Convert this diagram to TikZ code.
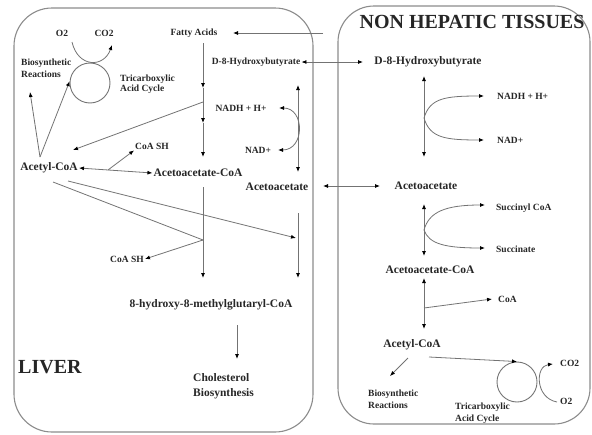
\documentclass[tikz,border=0pt]{standalone}
\usepackage{fontspec}
\setmainfont{Liberation Serif}
\usetikzlibrary{arrows.meta,positioning,calc}
\tikzset{
tissue/.style = {draw=black!45, line width=1.1pt, rounded corners=38pt},
metab/.style = {font=\fontsize{11.5}{15}\selectfont\bfseries, text=black!85, inner sep=1pt},
cofac/.style = {font=\fontsize{9.5}{12}\selectfont\bfseries, text=black!85, inner sep=1pt},
organ/.style = {font=\fontsize{20}{24}\selectfont\bfseries, text=black!85, inner sep=1pt},
cycle/.style = {draw=black!55, circle, line width=0.9pt, minimum size=40pt, inner sep=0pt},
tmp/.style = {coordinate},
flow/.style = {draw=black!55, line width=0.8pt}
}

\begin{document}
\begin{tikzpicture}[x=1pt, y=-1pt, >={Latex[length=5pt,width=4pt,color=black]}]
\useasboundingbox (0,0) rectangle (592,434);
% compartments
\draw[tissue] (14,8) rectangle (313,432);
\draw[tissue, rounded corners=36pt] (338,6) rectangle (590,424);

% liver
\node[cofac] (o2L) at (62,33) {O2};
\node[cofac] (co2L) at (104,33) {CO2};
\node[cycle] (cycL) at (90,83) {};
\node[cofac, anchor=west, align=left, font=\fontsize{9.5}{10.5}\selectfont\bfseries] (tcaL) at (119,84) {Tricarboxylic\\Acid Cycle};
\node[cofac, anchor=west, align=left] (bioL) at (20,68) {Biosynthetic\\Reactions};
\node[cofac] (fatty) at (194,33) {Fatty Acids};
\node[cofac] (hbL) at (256,62) {D-8-Hydroxybutyrate};
\node[cofac] (nadhL) at (241,108) {NADH + H+};
\node[cofac] (nadL) at (258,150) {NAD+};
\node[metab] (acoaL) at (49,168) {Acetyl-CoA};
\node[cofac] (coashA) at (152,146) {CoA SH};
\node[metab] (aacoaL) at (198,173) {Acetoacetate-CoA};
\node[metab] (acacL) at (277,187) {Acetoacetate};
\node[cofac] (coashB) at (127,259) {CoA SH};
\node[metab] (hmg) at (211,305) {8-hydroxy-8-methylglutaryl-CoA};
\node[metab, anchor=west, align=left] (chol) at (192,386) {Cholesterol\\Biosynthesis};
\node[organ, anchor=west] (liver) at (17,367) {LIVER};

% non hepatic tissues
\node[organ] (nonhep) at (472,22) {NON HEPATIC TISSUES};
\node[metab] (hbR) at (428,62) {D-8-Hydroxybutyrate};
\node[cofac, anchor=west] (nadhR) at (496,96) {NADH + H+};
\node[cofac, anchor=west] (nadR) at (496,140) {NAD+};
\node[metab] (acacR) at (426,186) {Acetoacetate};
\node[cofac, anchor=west] (succoa) at (495,208) {Succinyl CoA};
\node[cofac, anchor=west] (succ) at (495,249) {Succinate};
\node[metab] (aacoaR) at (430,270) {Acetoacetate-CoA};
\node[cofac, anchor=west] (coaR) at (497,299) {CoA};
\node[metab] (acoaR) at (412,345) {Acetyl-CoA};
\node[cofac, anchor=west, align=left] (bioR) at (367,399) {Biosynthetic\\Reactions};
\node[cycle] (cycR) at (517,382) {};
\node[cofac, anchor=west] (co2R) at (559,363) {CO2};
\node[cofac, anchor=west] (o2R) at (559,401) {O2};
\node[cofac, anchor=west, align=left] (tcaR) at (454,413) {Tricarboxylic\\Acid Cycle};

% junctions
\node[tmp] (arcL0) at (72,42) {};
\node[tmp] (arcL1) at (112,45) {};
\node[tmp] (vL) at (40,157) {};
\node[tmp] (bioInL) at (30,92) {};
\node[tmp] (faSrc) at (323,33) {};
\node[tmp] (faIn) at (233,33) {};
\node[tmp] (fa0) at (203,43) {};
\node[tmp] (fa1) at (203,88) {};
\node[tmp] (faBr) at (203,102) {};
\node[tmp] (fa2) at (203,123) {};
\node[tmp] (fa3) at (203,157) {};
\node[tmp] (acoaIn) at (73,150) {};
\node[tmp] (hbInR) at (363,62) {};
\node[tmp] (ah0) at (298,85) {};
\node[tmp] (ah1) at (298,172) {};
\node[tmp] (nadhIn) at (279,108) {};
\node[tmp] (nadIn) at (278,150) {};
\node[tmp] (coashBr) at (108,170) {};
\node[tmp] (aa0) at (203,187) {};
\node[tmp] (aaBr) at (203,240) {};
\node[tmp] (aa1) at (203,278) {};
\node[tmp] (acoaOut1) at (53,182) {};
\node[tmp] (acoaOut2) at (68,181) {};
\node[tmp] (acIn) at (296,238) {};
\node[tmp] (ac0) at (298,213) {};
\node[tmp] (ac1) at (298,278) {};
\node[tmp] (hmg0) at (237,325) {};
\node[tmp] (hmg1) at (237,359) {};
\node[tmp] (acL) at (323,186) {};
\node[tmp] (acR) at (380,186) {};
\node[tmp] (hb0) at (424,76) {};
\node[tmp] (hb1) at (424,157) {};
\node[tmp] (nadBr) at (424,118) {};
\node[tmp] (nadhInR) at (484,96) {};
\node[tmp] (nadInR) at (484,140) {};
\node[tmp] (ak0) at (424,204) {};
\node[tmp] (ak1) at (424,256) {};
\node[tmp] (sucBr) at (424,230) {};
\node[tmp] (succoaIn) at (485,205) {};
\node[tmp] (succIn) at (485,248) {};
\node[tmp] (ka0) at (424,278) {};
\node[tmp] (ka1) at (424,329) {};
\node[tmp] (coaBr) at (424,308) {};
\node[tmp] (coaIn) at (492,299) {};
\node[tmp] (acoaOutR1) at (408,358) {};
\node[tmp] (bioInR) at (390,376) {};
\node[tmp] (acoaOutR2) at (429,357) {};
\node[tmp] (arcR0) at (557,402) {};
\node[tmp] (arcR1) at (553,364) {};

% liver pathways
\draw[flow,->] (arcL0) .. controls (78,68) and (104,68) .. (arcL1);
\draw[flow,->] (vL) -- (bioInL);
\draw[flow,->] (vL) -- (cycL.175);
\draw[flow,->] (faSrc) -- (faIn);
\draw[flow,->] (fa0) -- (fa1);
\draw[flow,->] (fa1) -- (fa2);
\draw[flow,->] (fa2) -- (fa3);
\draw[flow,->] (faBr) -- (acoaIn);
\draw[flow,<->] (hbL.east) -- (hbInR);
\draw[flow,<->] (ah0) -- (ah1);
\draw[flow,<->] (nadhIn) .. controls (305,108) and (305,150) .. (nadIn);
\draw[flow,<->] (acoaL.east) -- (aacoaL.west);
\draw[flow,->] (coashBr) -- (coashA.south west);
\draw[flow,->] (aa0) -- (aa1);
\draw[flow,->] (aaBr) -- (coashB.east);
\draw[flow] (acoaOut1) -- (aaBr);
\draw[flow,->] (acoaOut2) -- (acIn);
\draw[flow,->] (ac0) -- (ac1);
\draw[flow,->] (hmg0) -- (hmg1);
\draw[flow,<->] (acL) -- (acR);

% non hepatic pathways
\draw[flow,<->] (hb0) -- (hb1);
\draw[flow,->] (nadBr) .. controls (430,98) and (445,96) .. (nadhInR);
\draw[flow,->] (nadBr) .. controls (430,138) and (445,140) .. (nadInR);
\draw[flow,<->] (ak0) -- (ak1);
\draw[flow,->] (sucBr) .. controls (429,212) and (445,205) .. (succoaIn);
\draw[flow,->] (sucBr) .. controls (429,244) and (445,248) .. (succIn);
\draw[flow,<->] (ka0) -- (ka1);
\draw[flow,->] (coaBr) -- (coaIn);
\draw[flow,->] (acoaOutR1) -- (bioInR);
\draw[flow,->] (acoaOutR2) -- (cycR.north);
\draw[flow,->] (arcR0) .. controls (535,398) and (535,366) .. (arcR1);
\end{tikzpicture}
\end{document}
